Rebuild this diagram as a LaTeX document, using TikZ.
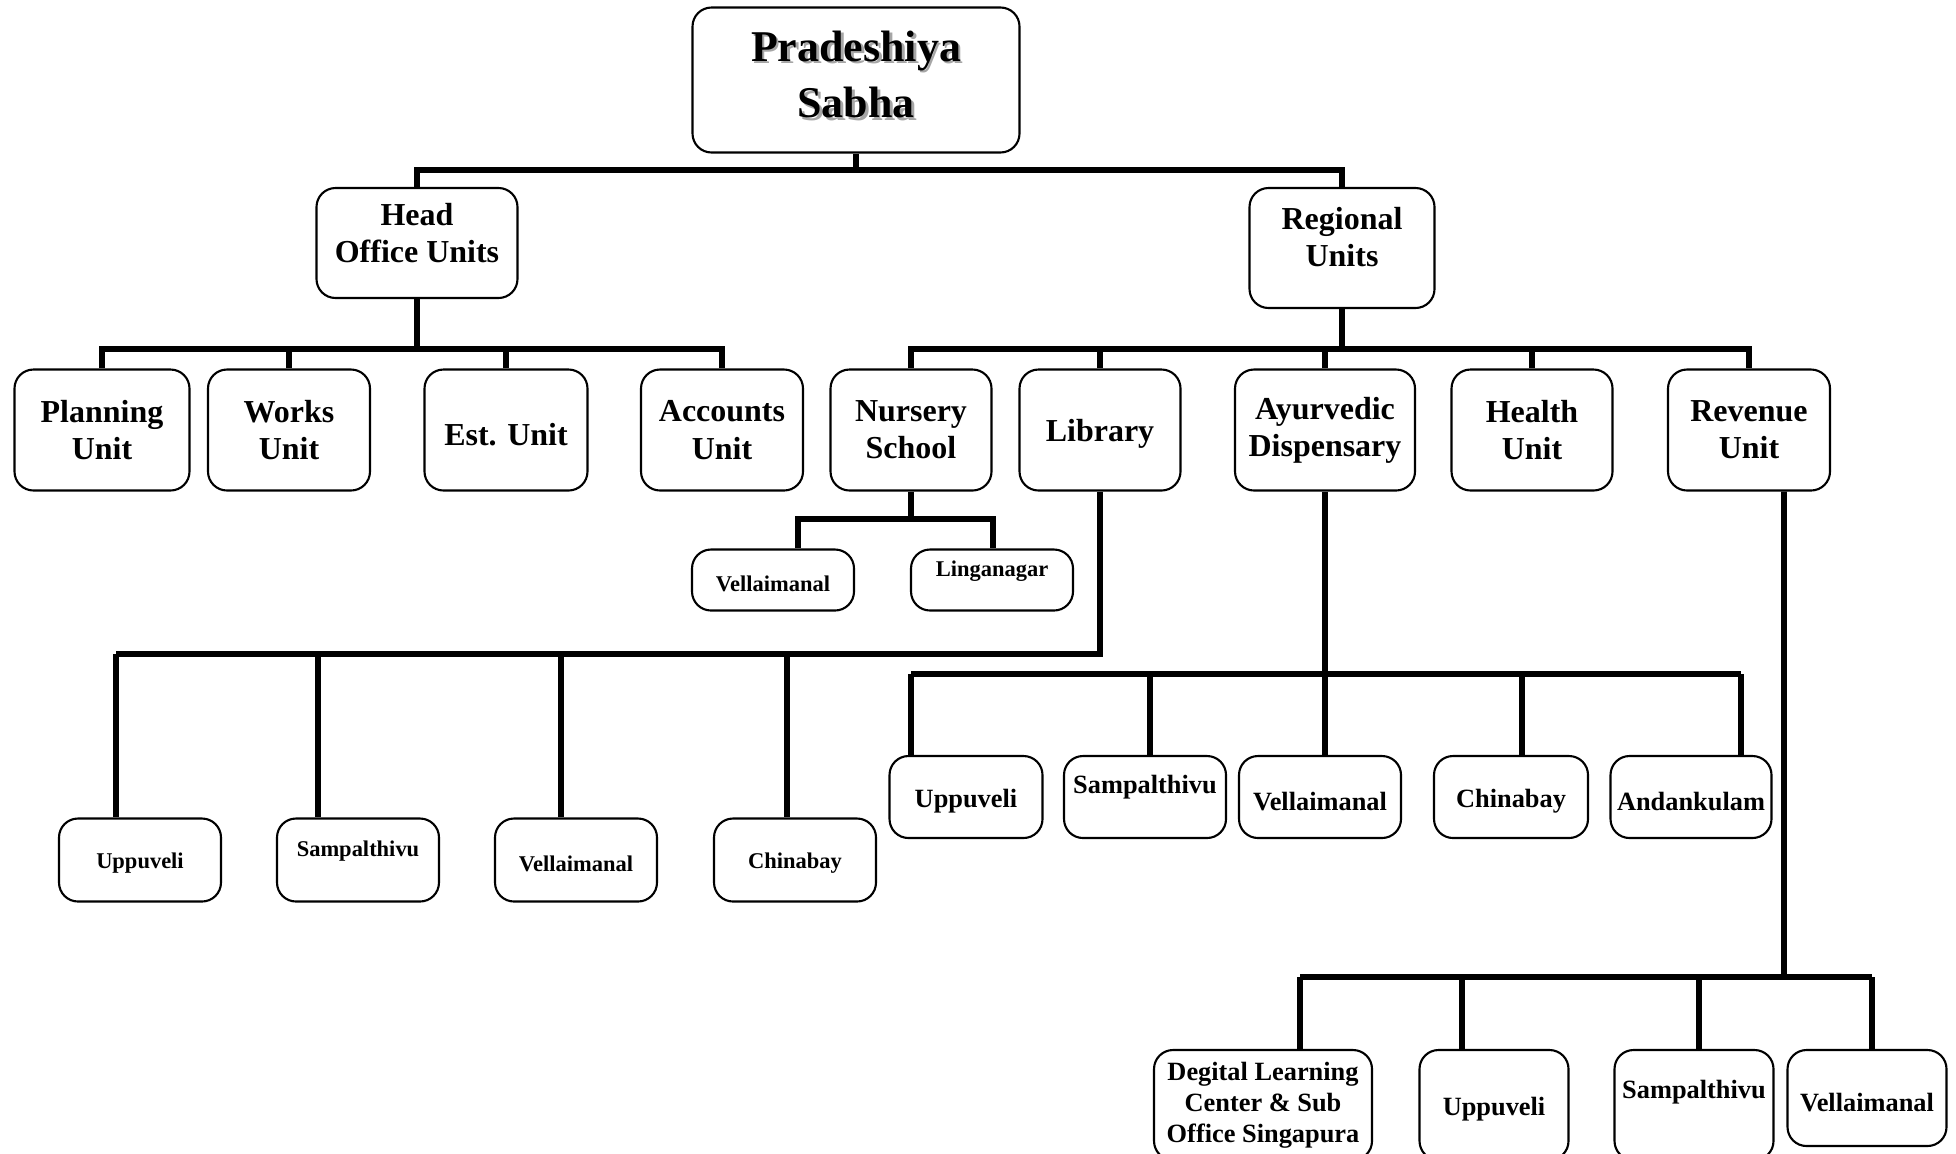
\documentclass[tikz,border=0pt]{standalone}
\usepackage{fontspec}
\setmainfont{Liberation Serif}
\newcommand{\shadowed}[1]{\makebox[0pt][l]{\hspace{0.8pt}\raisebox{-0.8pt}{\color{black!35}#1}}#1}

\begin{document}
\begin{tikzpicture}[x=0.1mm, y=-0.1mm,
    box/.style={draw, rounded corners=1.9mm, line width=0.6pt, align=center, inner sep=0pt},
    size/.style 2 args={minimum width=#1, minimum height=#2},
    topbox/.style={box, font=\fontsize{12.5}{16}\selectfont\bfseries},
    unitbox/.style={box, font=\fontsize{9.1}{10.6}\selectfont\bfseries},
    tinybox/.style={box, font=\fontsize{6.4}{7.6}\selectfont\bfseries, text height=6.4pt},
    placebox/.style={box, font=\fontsize{7.5}{8.8}\selectfont\bfseries, text height=7.6pt},
    raised/.style={text depth=#1},
    link/.style={line width=1.6pt}]
    \useasboundingbox (0,0) rectangle (1956,1153);

    % Pradeshiya Sabha and the two unit groups
    \node[topbox, size={32.7mm}{14.5mm}, raised=3.4pt] (root) at (856,80) {\shadowed{Pradeshiya}\\\shadowed{Sabha}};
    \node[unitbox, size={20.1mm}{11mm}, raised=5.7pt] (head) at (417,243) {Head\\Office Units};
    \node[unitbox, size={18.5mm}{12mm}, raised=6.2pt] (reg) at (1342,248) {Regional\\Units};

    \coordinate (top) at (856,170);
    \draw[link] (root.south) -- (top);
    \draw[link] (head.north) |- (top) -| (reg.north);

    % Head office units
    \node[unitbox, size={17.5mm}{12.1mm}] (plan) at (102,430) {Planning\\Unit};
    \node[unitbox, size={16.2mm}{12.1mm}] (works) at (289,430) {Works\\Unit};
    \node[unitbox, size={16.3mm}{12.1mm}, text height=8.7pt] (est) at (506,430) {Est. Unit};
    \node[unitbox, size={16.2mm}{12.1mm}] (acc) at (722,430) {Accounts\\Unit};

    \coordinate (hbar) at (417,349);
    \draw[link] (head.south) -- (hbar);
    \draw[link] (plan.north) |- (hbar) -| (acc.north);
    \foreach \n in {works, est}
        \draw[link] (\n.north) -- (\n.north |- hbar);

    % Regional units
    \node[unitbox, size={16.1mm}{12.1mm}] (nurs) at (911,430) {Nursery\\School};
    \node[unitbox, size={16.1mm}{12.1mm}, text height=8.7pt] (lib) at (1100,430) {Library};
    \node[unitbox, size={18mm}{12.1mm}] (ayur) at (1325,430) {Ayurvedic\\Dispensary};
    \node[unitbox, size={16.1mm}{12.1mm}] (health) at (1532,430) {Health\\Unit};
    \node[unitbox, size={16.2mm}{12.1mm}] (rev) at (1749,430) {Revenue\\Unit};

    \coordinate (rbar) at (1342,349);
    \draw[link] (reg.south) -- (rbar);
    \draw[link] (nurs.north) |- (rbar) -| (rev.north);
    \foreach \n in {lib, ayur, health}
        \draw[link] (\n.north) -- (\n.north |- rbar);

    % Nursery school
    \node[tinybox, size={16.2mm}{6.1mm}] (nvell) at (773,580) {Vellaimanal};
    \node[tinybox, size={16.2mm}{6.1mm}, raised=8.2pt] (nling) at (992,580) {Linganagar};

    \coordinate (nbar) at (911,519);
    \coordinate (ns1) at (798,519);
    \coordinate (ns2) at (993,519);
    \draw[link] (nurs.south) -- (nbar);
    \draw[link] (ns1 |- nvell.north) -- (ns1) -- (ns2) -- (ns2 |- nling.north);

    % Library
    \node[tinybox, size={16.2mm}{8.3mm}] (lupp) at (140,860) {Uppuveli};
    \node[tinybox, size={16.2mm}{8.3mm}, raised=8.2pt] (lsamp) at (358,860) {Sampalthivu};
    \node[tinybox, size={16.2mm}{8.3mm}] (lvell) at (576,860) {Vellaimanal};
    \node[tinybox, size={16.2mm}{8.3mm}] (lchin) at (795,860) {Chinabay};

    \coordinate (lbar) at (1100,654);
    \coordinate (ls1) at (116,654);
    \coordinate (ls2) at (318,654);
    \coordinate (ls3) at (561,654);
    \coordinate (ls4) at (787,654);
    \draw[link] (lib.south) -- (lbar) -- (ls1);
    \foreach \c/\n in {ls1/lupp, ls2/lsamp, ls3/lvell, ls4/lchin}
        \draw[link] (\c) -- (\c |- \n.north);

    % Ayurvedic dispensary
    \node[placebox, size={15.3mm}{8.2mm}] (aupp) at (966,797) {Uppuveli};
    \node[placebox, size={16.2mm}{8.2mm}, raised=9.7pt] (asamp) at (1145,797) {Sampalthivu};
    \node[placebox, size={16.2mm}{8.2mm}] (avell) at (1320,797) {Vellaimanal};
    \node[placebox, size={15.4mm}{8.2mm}] (achin) at (1511,797) {Chinabay};
    \node[placebox, size={16.1mm}{8.2mm}] (aand) at (1691,797) {Andankulam};

    \coordinate (abar) at (1325,674);
    \coordinate (as1) at (911,674);
    \coordinate (as2) at (1150,674);
    \coordinate (as3) at (1325,674);
    \coordinate (as4) at (1522,674);
    \coordinate (as5) at (1741,674);
    \draw[link] (ayur.south) -- (abar);
    \draw[link] (as1) -- (as5);
    \foreach \c/\n in {as1/aupp, as2/asamp, as3/avell, as4/achin, as5/aand}
        \draw[link] (\c) -- (\c |- \n.north);

    % Revenue unit
    \node[placebox, text height={}, size={21.8mm}{11mm}] (rdeg) at (1263,1105) {Degital Learning\\Center \& Sub\\Office Singapura};
    \node[placebox, size={14.9mm}{11mm}] (rupp) at (1494,1105) {Uppuveli};
    \node[placebox, size={15.9mm}{11mm}, raised=11.3pt] (rsamp) at (1694,1105) {Sampalthivu};
    \node[placebox, size={15.9mm}{9.6mm}] (rvell) at (1867,1098) {Vellaimanal};

    \coordinate (vbar) at (1784,977);
    \coordinate (vs1) at (1300,977);
    \coordinate (vs2) at (1462,977);
    \coordinate (vs3) at (1699,977);
    \coordinate (vs4) at (1872,977);
    \draw[link] ([xshift=3.5mm]rev.south) -- (vbar);
    \draw[link] (vs1) -- (vs4);
    \foreach \c/\n in {vs1/rdeg, vs2/rupp, vs3/rsamp, vs4/rvell}
        \draw[link] (\c) -- (\c |- \n.north);
\end{tikzpicture}
\end{document}
